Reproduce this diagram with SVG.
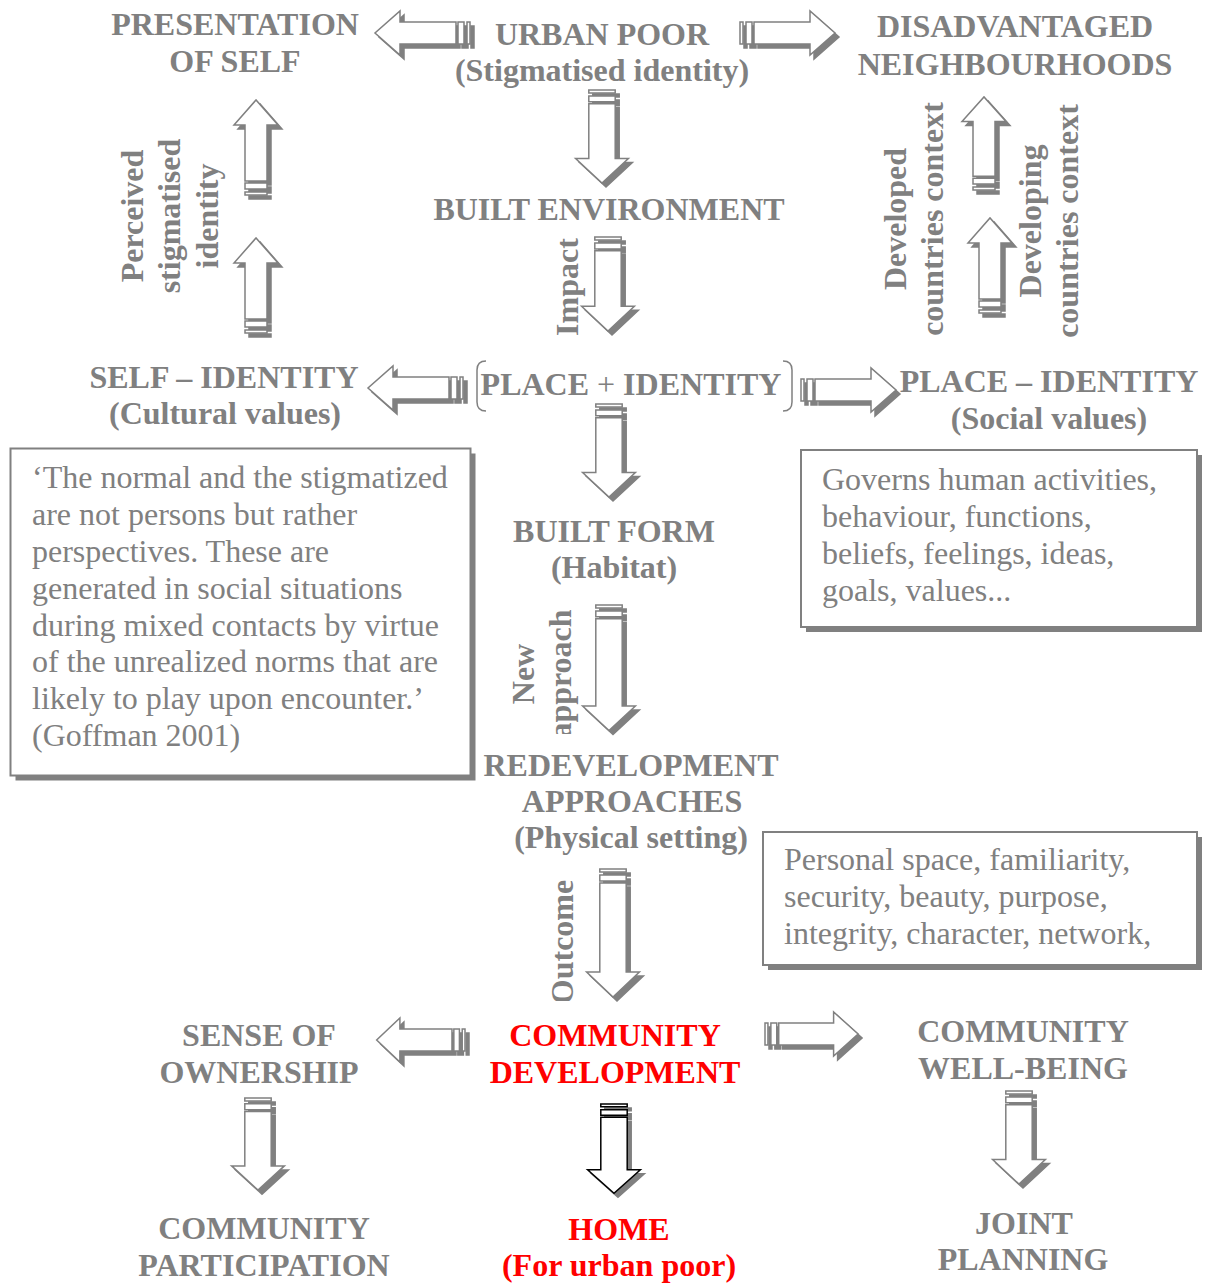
<svg xmlns="http://www.w3.org/2000/svg" width="1209" height="1284" viewBox="0 0 1209 1284">
<style>
text{font-family:"Liberation Serif","Times New Roman",serif;font-size:32px;fill:#808080}
.b{font-weight:bold;text-anchor:middle}
.r{fill:#ff0000}
.box{fill:#fff;stroke:#808080;stroke-width:2}
.bsh{fill:#808080}
.sh{fill:#808080;stroke:#808080}
.fg{fill:#fff;stroke:#808080}
.fk{fill:#fff;stroke:#000}
.ar rect,.ar path{vector-effect:non-scaling-stroke;stroke-width:1.5}
.brk{fill:none;stroke:#808080;stroke-width:1.5}
</style>
<defs>
<g id="a" class="ar"><rect x="-11" y="0" width="22" height="3"/><rect x="-11" y="6" width="22" height="6"/><path d="M-11,14H11V70H22L0,95L-22,70H-11Z"/></g>
<g id="al" class="ar"><rect x="-11" y="0" width="22" height="3"/><rect x="-11" y="6" width="22" height="6"/><path d="M-11,14H11V103H22L0,128L-22,103H-11Z"/></g>
<clipPath id="clipApp"><rect x="500" y="590" width="100" height="144"/></clipPath>
<clipPath id="clipOut"><rect x="549" y="860" width="60" height="141"/></clipPath>
</defs>

<g id="connectors">
<g id="c1"><use href="#a" class="sh" transform="translate(474,37) rotate(90)"/><use href="#a" class="fg" transform="translate(470,33) rotate(90)"/></g>
<g id="c2"><use href="#a" class="sh" transform="translate(744,37) rotate(-90)"/><use href="#a" class="fg" transform="translate(740,33) rotate(-90)"/></g>
<g id="c3"><use href="#a" class="sh" transform="translate(606,94) scale(1.2,0.98)"/><use href="#a" class="fg" transform="translate(602,90) scale(1.2,0.98)"/></g>
<g id="c4"><use href="#a" class="sh" transform="translate(260,199) rotate(180)"/><use href="#a" class="fg" transform="translate(256,195) rotate(180)"/></g>
<g id="c5"><use href="#a" class="sh" transform="translate(260,337) rotate(180)"/><use href="#a" class="fg" transform="translate(256,333) rotate(180)"/></g>
<g id="c6"><use href="#a" class="sh" transform="translate(612,241) scale(1.2,0.99)"/><use href="#a" class="fg" transform="translate(608,237) scale(1.2,0.99)"/></g>
<g id="c7"><use href="#a" class="sh" transform="translate(988,194) rotate(180) scale(1,0.98)"/><use href="#a" class="fg" transform="translate(984,190) rotate(180) scale(1,0.98)"/></g>
<g id="c8"><use href="#a" class="sh" transform="translate(994,317) rotate(180)"/><use href="#a" class="fg" transform="translate(990,313) rotate(180)"/></g>
<g id="c9"><use href="#a" class="sh" transform="translate(467,392) rotate(90)"/><use href="#a" class="fg" transform="translate(463,388) rotate(90)"/></g>
<g id="c10"><use href="#a" class="sh" transform="translate(805,394) rotate(-90)"/><use href="#a" class="fg" transform="translate(801,390) rotate(-90)"/></g>
<g id="c11"><use href="#a" class="sh" transform="translate(613,408) scale(1.2,0.98)"/><use href="#a" class="fg" transform="translate(609,404) scale(1.2,0.98)"/></g>
<g id="c12"><use href="#al" class="sh" transform="translate(613,609) scale(1.2,0.98)"/><use href="#al" class="fg" transform="translate(609,605) scale(1.2,0.98)"/></g>
<g id="c13"><use href="#al" class="sh" transform="translate(617,873) scale(1.2,1)"/><use href="#al" class="fg" transform="translate(613,869) scale(1.2,1)"/></g>
<g id="c14"><use href="#a" class="sh" transform="translate(469,1044) rotate(90) scale(1,0.93)"/><use href="#a" class="fg" transform="translate(465,1040) rotate(90) scale(1,0.93)"/></g>
<g id="c15"><use href="#a" class="sh" transform="translate(769,1038) rotate(-90) scale(1,0.98)"/><use href="#a" class="fg" transform="translate(765,1034) rotate(-90) scale(1,0.98)"/></g>
<g id="c16"><use href="#a" class="sh" transform="translate(618,1108) scale(1.2,0.94)"/><use href="#a" class="fk" transform="translate(614,1104) scale(1.2,0.94)"/></g>
<g id="c17"><use href="#a" class="sh" transform="translate(262,1102) scale(1.2,0.97)"/><use href="#a" class="fg" transform="translate(258,1098) scale(1.2,0.97)"/></g>
<g id="c18"><use href="#a" class="sh" transform="translate(1023,1095) scale(1.2,0.98)"/><use href="#a" class="fg" transform="translate(1019,1091) scale(1.2,0.98)"/></g>
</g>

<g id="n-presentation"><text class="b" x="235" y="35">PRESENTATION</text><text class="b" x="235" y="72">OF SELF</text></g>
<g id="n-urbanpoor"><text class="b" x="602" y="45">URBAN POOR</text><text class="b" x="602" y="81">(Stigmatised identity)</text></g>
<g id="n-disadvantaged"><text class="b" x="1015" y="37">DISADVANTAGED</text><text class="b" x="1015" y="75">NEIGHBOURHOODS</text></g>
<g id="n-builtenv"><text class="b" x="609" y="220">BUILT ENVIRONMENT</text></g>
<g id="l-perceived">
<text class="b" transform="translate(143,216) rotate(-90)">Perceived</text>
<text class="b" transform="translate(180,216) rotate(-90)">stigmatised</text>
<text class="b" transform="translate(218,216) rotate(-90)">identity</text>
</g>
<g id="l-impact"><text class="b" transform="translate(578,287) rotate(-90)">Impact</text></g>
<g id="l-developed">
<text class="b" transform="translate(906,219) rotate(-90)">Developed</text>
<text class="b" transform="translate(943,219) rotate(-90)">countries context</text>
</g>
<g id="l-developing">
<text class="b" transform="translate(1041,221) rotate(-90)">Developing</text>
<text class="b" transform="translate(1078,221) rotate(-90)">countries context</text>
</g>
<g id="n-selfidentity"><text class="b" x="224" y="388">SELF – IDENTITY</text><text class="b" x="225" y="424">(Cultural values)</text></g>
<g id="n-placeidentity-c">
<path class="brk" d="M486,361Q477,361 477,370V402Q477,411 486,411"/>
<path class="brk" d="M783,361Q792,361 792,370V402Q792,411 783,411"/>
<text class="b" x="631" y="395">PLACE <tspan font-weight="normal">+</tspan> IDENTITY</text>
</g>
<g id="n-placeidentity"><text class="b" x="1049" y="392">PLACE – IDENTITY</text><text class="b" x="1049" y="429">(Social values)</text></g>

<g id="n-goffman">
<rect class="bsh" x="15.5" y="453.5" width="460" height="327"/>
<rect class="box" x="10.5" y="448.5" width="460" height="327"/>
<text x="32" y="488">‘The normal and the stigmatized</text>
<text x="32" y="525">are not persons but rather</text>
<text x="32" y="562">perspectives. These are</text>
<text x="32" y="598.5">generated in social situations</text>
<text x="32" y="635.5">during mixed contacts by virtue</text>
<text x="32" y="672">of the unrealized norms that are</text>
<text x="32" y="709">likely to play upon encounter.’</text>
<text x="32" y="745.5">(Goffman 2001)</text>
</g>
<g id="n-governs">
<rect class="bsh" x="806" y="455" width="396" height="177"/>
<rect class="box" x="801" y="450" width="396" height="177"/>
<text x="822" y="490">Governs human activities,</text>
<text x="822" y="527">behaviour, functions,</text>
<text x="822" y="564">beliefs, feelings, ideas,</text>
<text x="822" y="601">goals, values...</text>
</g>
<g id="n-builtform"><text class="b" x="614" y="542">BUILT FORM</text><text class="b" x="614" y="578">(Habitat)</text></g>
<g id="l-newapproach">
<text class="b" transform="translate(534,674) rotate(-90)">New</text>
<g clip-path="url(#clipApp)"><text class="b" transform="translate(571,674) rotate(-90)">approach</text></g>
</g>
<g id="n-redevelopment"><text class="b" x="631" y="776">REDEVELOPMENT</text><text class="b" x="632" y="812">APPROACHES</text><text class="b" x="631" y="848">(Physical setting)</text></g>
<g id="n-personal">
<rect class="bsh" x="768" y="837" width="434" height="133"/>
<rect class="box" x="763" y="832" width="434" height="133"/>
<text x="784" y="870">Personal space, familiarity,</text>
<text x="784" y="907">security, beauty, purpose,</text>
<text x="784" y="944">integrity, character, network,</text>
</g>
<g id="l-outcome"><g clip-path="url(#clipOut)"><text class="b" transform="translate(573,942) rotate(-90)">Outcome</text></g></g>
<g id="n-ownership"><text class="b" x="259" y="1046">SENSE OF</text><text class="b" x="259" y="1083">OWNERSHIP</text></g>
<g id="n-commdev"><text class="b r" x="615" y="1046">COMMUNITY</text><text class="b r" x="615" y="1083">DEVELOPMENT</text></g>
<g id="n-wellbeing"><text class="b" x="1023" y="1042">COMMUNITY</text><text class="b" x="1023" y="1079">WELL-BEING</text></g>
<g id="n-participation"><text class="b" x="264" y="1239">COMMUNITY</text><text class="b" x="264" y="1276">PARTICIPATION</text></g>
<g id="n-home"><text class="b r" x="619" y="1240">HOME</text><text class="b r" x="619" y="1276">(For urban poor)</text></g>
<g id="n-joint"><text class="b" x="1024" y="1234">JOINT</text><text class="b" x="1023" y="1270">PLANNING</text></g>
</svg>
